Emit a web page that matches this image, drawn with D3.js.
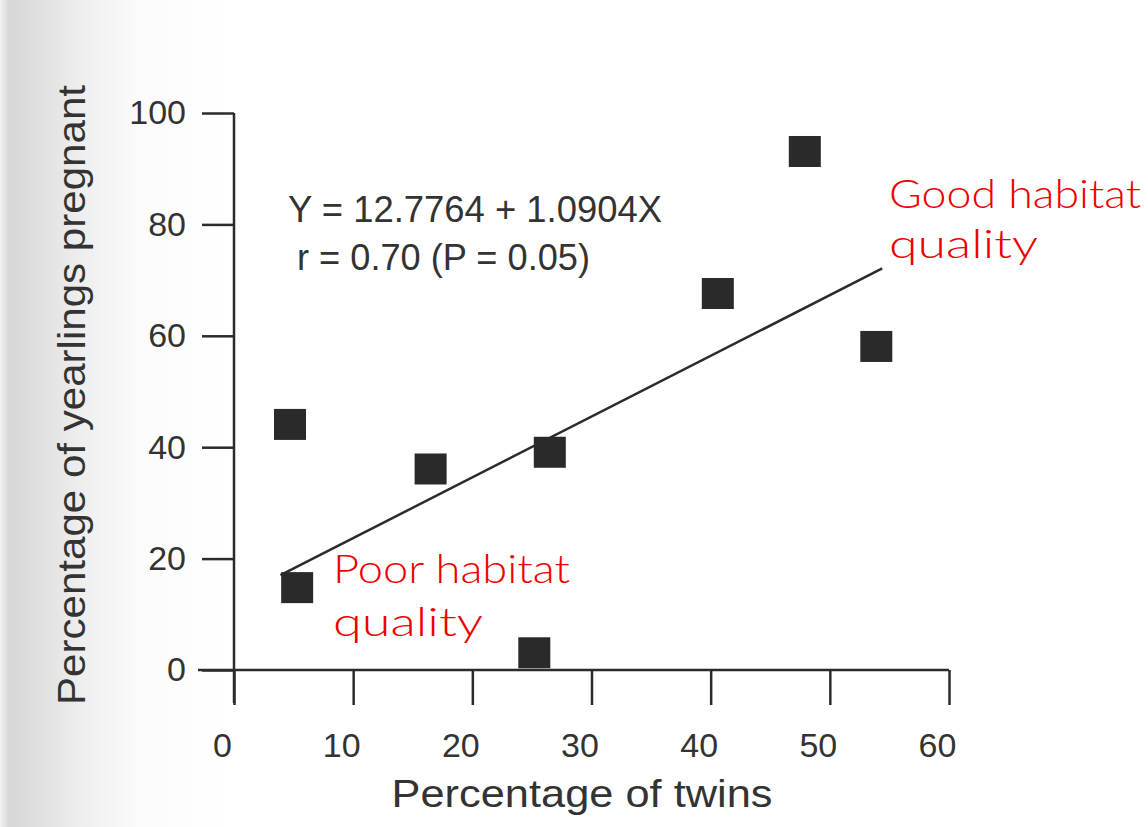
<!DOCTYPE html>
<html>
<head>
<meta charset="utf-8">
<script src="https://cdn.jsdelivr.net/npm/d3@7"></script>
<style>
  body { margin: 0; background: #fff; }
  svg { display: block; }
  .tick text { font-family: "Liberation Sans", Arial, sans-serif; font-size: 34px; fill: #333; }
</style>
</head>
<body>
<div class="chart-twins"></div>
<script>
// percentage of twins vs percentage of yearlings pregnant
var twins    = [4.7, 5.3, 16.5, 26.5, 25.2, 40.6, 47.9, 53.9];
var pregnant = [44, 14.7, 36, 39, 3, 67.5, 93, 58];

var xTicks = [0, 10, 20, 30, 40, 50, 60];
var yTicks = [0, 20, 40, 60, 80, 100];

// regression Y = a + bX, drawn across the observed range
var intercept = 12.7764, slope = 1.0904;
var fitRange = [3.9, 54.4];

var eqLines = ["Y = 12.7764 + 1.0904X", "r = 0.70 (P = 0.05)"];

var width = 1148, height = 827;

var svg = d3.select('.chart-twins')
    .append('svg')
    .attr('width', width)
    .attr('height', height);

// scanned page shading on the left edge
var grad = svg.append('defs').append('linearGradient')
    .attr('id', 'paper')
    .attr('x1', 0).attr('x2', 1).attr('y1', 0).attr('y2', 0);
grad.append('stop').attr('offset', 0).attr('stop-color', '#f2f2f2');
grad.append('stop').attr('offset', 0.008).attr('stop-color', '#d6d6d6');
grad.append('stop').attr('offset', 0.03).attr('stop-color', '#dedede');
grad.append('stop').attr('offset', 0.07).attr('stop-color', '#eeeeee');
grad.append('stop').attr('offset', 0.12).attr('stop-color', '#fbfbfb');
grad.append('stop').attr('offset', 0.2).attr('stop-color', '#ffffff');
svg.append('rect')
    .attr('width', width).attr('height', height)
    .attr('fill', 'url(#paper)');

var x = d3.scaleLinear()
    .domain([0, 60])
    .range([234, 949]);

var y = d3.scaleLinear()
    .domain([0, 100])
    .range([670, 113]);

var ink = '#2b2b2b';

var yAxis = d3.axisLeft(y)
    .tickValues(yTicks)
    .tickFormat(d3.format('d'))
    .tickSize(32)
    .tickPadding(16);

var xAxis = d3.axisBottom(x)
    .tickValues(xTicks)
    .tickFormat(d3.format('d'))
    .tickSize(35)
    .tickPadding(28);

var gy = svg.append('g')
    .attr('transform', 'translate(' + x(0) + ',0)')
    .call(yAxis);

var gx = svg.append('g')
    .attr('transform', 'translate(0,' + y(0) + ')')
    .call(xAxis);

gy.select('.domain').remove();
gx.select('.domain').remove();
svg.selectAll('.tick line').attr('stroke', ink).attr('stroke-width', 2.5);
gx.selectAll('.tick text').attr('dx', -12);

// axis lines cross at the origin
svg.append('line')
    .attr('x1', x(0)).attr('x2', x(0))
    .attr('y1', y(100)).attr('y2', y(0) + 33)
    .attr('stroke', ink).attr('stroke-width', 2.5);
svg.append('line')
    .attr('x1', x(0) - 36).attr('x2', x(60))
    .attr('y1', y(0)).attr('y2', y(0))
    .attr('stroke', ink).attr('stroke-width', 2.5);

// regression line
var line = d3.line()
    .x(function(d) { return x(d); })
    .y(function(d) { return y(intercept + slope * d); });

svg.append('path')
    .datum(fitRange)
    .attr('d', line)
    .attr('fill', 'none')
    .attr('stroke', ink)
    .attr('stroke-width', 2.5);

// data squares
var sq = 32;
svg.selectAll('rect.pt')
    .data(twins)
    .enter().append('rect')
    .attr('class', 'pt')
    .attr('x', function(d) { return x(d) - sq / 2; })
    .attr('y', function(d, i) { return y(pregnant[i]) - sq / 2; })
    .attr('width', sq)
    .attr('height', sq - 1)
    .attr('fill', '#2a2a2a');

// equation
svg.selectAll('text.eq')
    .data(eqLines)
    .enter().append('text')
    .attr('class', 'eq')
    .attr('x', function(d, i) { return i ? 297 : 288; })
    .attr('y', function(d, i) { return i ? 270 : 222; })
    .attr('textLength', function(d, i) { return i ? 293 : 374; })
    .attr('lengthAdjust', 'spacingAndGlyphs')
    .style('font-family', '"Liberation Sans", Arial, sans-serif')
    .style('font-size', '36px')
    .style('fill', '#333')
    .text(function(d) { return d; });

// axis titles
svg.append('text')
    .attr('x', 582).attr('y', 807)
    .attr('text-anchor', 'middle')
    .attr('textLength', 381)
    .attr('lengthAdjust', 'spacingAndGlyphs')
    .style('font-family', '"Liberation Sans", Arial, sans-serif')
    .style('font-size', '39px')
    .style('fill', '#333')
    .text('Percentage of twins');

svg.append('text')
    .attr('transform', 'translate(85,395) rotate(-90)')
    .attr('text-anchor', 'middle')
    .attr('textLength', 620)
    .attr('lengthAdjust', 'spacingAndGlyphs')
    .style('font-family', '"Liberation Sans", Arial, sans-serif')
    .style('font-size', '38px')
    .style('fill', '#333')
    .text('Percentage of yearlings pregnant');

// hand-written notes in red
var notes = [
  { t: 'Good habitat', x: 889, y: 208, w: 252 },
  { t: 'quality',      x: 889, y: 258, w: 149 },
  { t: 'Poor habitat', x: 333, y: 583, w: 237 },
  { t: 'quality',      x: 333, y: 636, w: 150 }
];

svg.selectAll('text.note')
    .data(notes)
    .enter().append('text')
    .attr('class', 'note')
    .attr('x', function(d) { return d.x; })
    .attr('y', function(d) { return d.y; })
    .attr('textLength', function(d) { return d.w; })
    .attr('lengthAdjust', 'spacingAndGlyphs')
    .style('font-family', 'Lato, "Open Sans", sans-serif')
    .style('font-weight', 300)
    .style('font-size', '40px')
    .style('fill', '#ee0000')
    .text(function(d) { return d.t; });
</script>
</body>
</html>
